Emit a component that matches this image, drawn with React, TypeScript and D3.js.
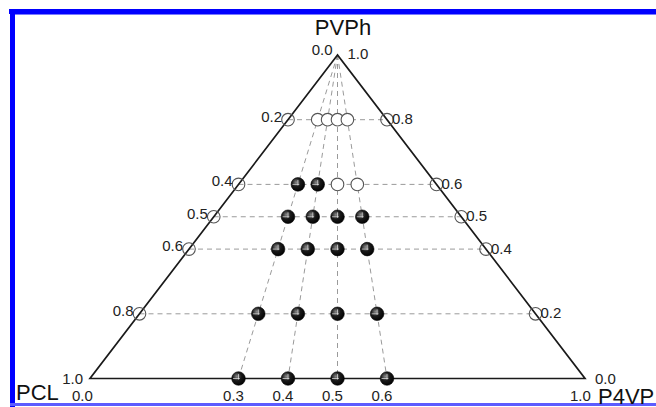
import React from "react";
import * as d3 from "d3";

const W = 656;
const H = 407;

// PVPh weight fraction of each tie line, top to bottom
const pvphLevels = [0.8, 0.6, 0.5, 0.4, 0.2, 0.0];
// P4VP / (PCL + P4VP) ratio of each blend series
const p4vpRatios = [0.3, 0.4, 0.5, 0.6];
// phase of each blend: "o" = open circle, "f" = filled sphere (rows follow pvphLevels)
const phaseRows = [
  ["o", "o", "o", "o"],
  ["f", "f", "o", "o"],
  ["f", "f", "f", "f"],
  ["f", "f", "f", "f"],
  ["f", "f", "f", "f"],
  ["f", "f", "f", "f"],
];
// edge markers sit on these PVPh levels
const edgeLevels = [0.8, 0.6, 0.5, 0.4, 0.2];
const leftTickLabels = ["0.2", "0.4", "0.5", "0.6", "0.8"];
const rightTickLabels = ["0.8", "0.6", "0.5", "0.4", "0.2"];
const baseTickLabels = ["0.3", "0.4", "0.5", "0.6"];

const font = "'Liberation Sans', Arial, Helvetica, sans-serif";

// triangle frame
const baseY = 378.5;
const apexY = 55;
const xBase = d3.scaleLinear().domain([0, 1]).range([90, 585]);
const yScale = d3.scaleLinear().domain([0, 1]).range([baseY, apexY]);

// ternary position from PVPh fraction and P4VP share of the rest
const project = (pvph: number, ratio: number): [number, number] => [
  xBase(ratio * (1 - pvph) + 0.5 * pvph),
  yScale(pvph),
];

const apex = project(1, 0);
const bl = project(0, 0);
const br = project(0, 1);

function Sphere({ cx, cy }: { cx: number; cy: number }) {
  const r = 6.8;
  return (
    <g>
      <circle cx={cx} cy={cy} r={r} fill="url(#ball)" stroke="#000" strokeWidth={0.6} />
      <line x1={cx - r * 0.8} y1={cy} x2={cx + r * 0.2} y2={cy} stroke="#fff" strokeOpacity={0.6} strokeWidth={1} />
      <line x1={cx} y1={cy - r * 0.65} x2={cx} y2={cy + r * 0.15} stroke="#fff" strokeOpacity={0.6} strokeWidth={1} />
    </g>
  );
}

export default function App() {
  const dash = "5,4";
  const tri = d3.line()([apex, bl, br, apex]) + "Z";

  return (
    <svg
      width={W}
      height={H}
      style={{ position: "absolute", left: 0, top: 0, background: "#fff" }}
      fontFamily={font}
    >
      <defs>
        <radialGradient id="ball" cx="38%" cy="35%" r="70%">
          <stop offset="0%" stopColor="#8a8a8a" />
          <stop offset="45%" stopColor="#1a1a1a" />
          <stop offset="100%" stopColor="#000" />
        </radialGradient>
      </defs>
      <rect x={0} y={0} width={W} height={H} fill="#fff" />

      {/* blue frame */}
      <rect x={9} y={9} width={W - 9} height={5} fill="#0000ff" />
      <rect x={14} y={14} width={W - 14} height={1} fill="#7a7aff" />
      <rect x={10} y={9} width={5} height={H - 9} fill="#0000ff" />
      <rect x={10} y={403} width={W - 10} height={3} fill="#5c5cff" />

      {/* tie lines at constant PVPh */}
      {edgeLevels.map((p) => {
        const [x1, y] = project(p, 0);
        const [x2] = project(p, 1);
        return <line key={"h" + p} x1={x1} y1={y} x2={x2} y2={y} stroke="#9a9a9a" strokeWidth={1} strokeDasharray={dash} />;
      })}

      {/* blend series from the PVPh apex */}
      {p4vpRatios.map((r) => {
        const [x2, y2] = project(0, r);
        return <line key={"r" + r} x1={apex[0]} y1={apex[1]} x2={x2} y2={y2} stroke="#9a9a9a" strokeWidth={1} strokeDasharray={dash} />;
      })}

      {/* triangle */}
      <path d={tri} fill="none" stroke="#1a1a1a" strokeWidth={1.7} strokeLinejoin="miter" />

      {/* edge markers */}
      {edgeLevels.map((p) => {
        const [xl, y] = project(p, 0);
        const [xr] = project(p, 1);
        return (
          <g key={"e" + p}>
            <circle cx={xl} cy={y} r={6.3} fill="none" stroke="#555" strokeWidth={1.1} />
            <circle cx={xr} cy={y} r={6.3} fill="none" stroke="#555" strokeWidth={1.1} />
          </g>
        );
      })}

      {/* blends */}
      {pvphLevels.map((p, i) =>
        p4vpRatios.map((r, j) => {
          const [cx, cy] = project(p, r);
          return phaseRows[i][j] === "o" ? (
            <circle key={`b${i}-${j}`} cx={cx} cy={cy} r={6.3} fill="#fff" stroke="#555" strokeWidth={1.1} />
          ) : (
            <Sphere key={`b${i}-${j}`} cx={cx} cy={cy} />
          );
        })
      )}

      {/* edge tick labels */}
      <g fontSize={15} fill="#222">
        {edgeLevels.map((p, i) => {
          const [xl, y] = project(p, 0);
          const [xr] = project(p, 1);
          return (
            <g key={"t" + p}>
              <text x={xl - 6} y={y + 2} textAnchor="end">{leftTickLabels[i]}</text>
              <text x={xr + 5} y={y + 4.5} textAnchor="start">{rightTickLabels[i]}</text>
            </g>
          );
        })}
        {p4vpRatios.map((r, i) => {
          const [x] = project(0, r);
          return <text key={"bt" + r} x={x - 5} y={baseY + 22.5} textAnchor="middle">{baseTickLabels[i]}</text>;
        })}
        <text x={apex[0] - 5} y={apex[1]} textAnchor="end">0.0</text>
        <text x={apex[0] + 10} y={apex[1] + 4} textAnchor="start">1.0</text>
        <text x={bl[0] - 7} y={baseY + 5} textAnchor="end">1.0</text>
        <text x={bl[0] - 18} y={baseY + 22} textAnchor="start">0.0</text>
        <text x={br[0] + 10} y={baseY + 5} textAnchor="start">0.0</text>
        <text x={br[0] - 15} y={baseY + 22} textAnchor="start">1.0</text>
      </g>

      {/* component names */}
      <g fontSize={22} fill="#111">
        <text x={343} y={35} textAnchor="middle">PVPh</text>
        <text x={16} y={400} textAnchor="start">PCL</text>
        <text x={598} y={404} textAnchor="start">P4VP</text>
      </g>
    </svg>
  );
}
